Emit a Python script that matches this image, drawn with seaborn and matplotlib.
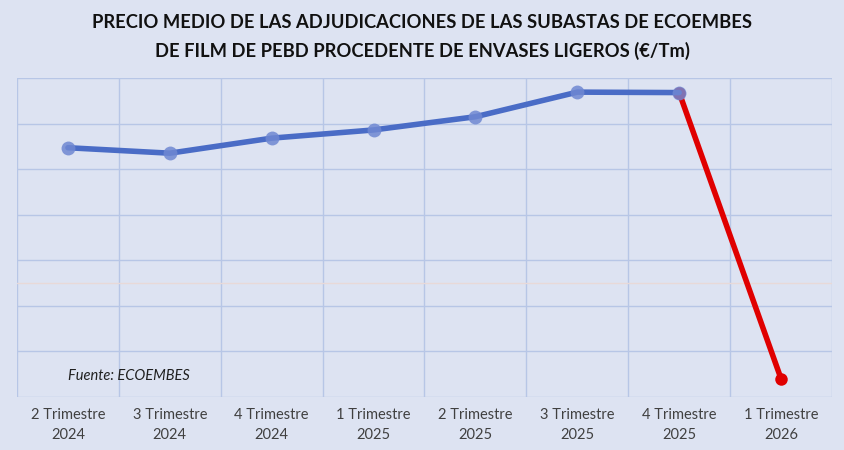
import numpy as np
import pandas as pd
import seaborn as sns
import matplotlib.pyplot as plt

# Datos (EUR/Tm, escala estimada 0-700)
periodos = ["2 Trimestre\n2024", "3 Trimestre\n2024", "4 Trimestre\n2024",
            "1 Trimestre\n2025", "2 Trimestre\n2025", "3 Trimestre\n2025",
            "4 Trimestre\n2025", "1 Trimestre\n2026"]
precio_historico = [547, 535, 568, 586, 615, 669, 668]
precio_nuevo = [668, 40]
linea_ref = 250

titulo = ("PRECIO MEDIO DE LAS ADJUDICACIONES DE LAS SUBASTAS DE ECOEMBES\n"
          "DE FILM DE PEBD PROCEDENTE DE ENVASES LIGEROS (€/Tm)")
fuente = "Fuente: ECOEMBES"

fondo = "#dde3f2"
rejilla = "#b7c6e6"
azul = "#4a6cc6"
rojo = "#e00000"


def main():
    sns.set_theme(style="white")
    plt.rcParams['font.family'] = ['Lato', 'DejaVu Sans']

    df_hist = pd.DataFrame({"x": np.arange(len(precio_historico)), "precio": precio_historico})
    df_nuevo = pd.DataFrame({"x": [len(periodos) - 2, len(periodos) - 1], "precio": precio_nuevo})

    fig = plt.figure(figsize=(8.45, 4.5), dpi=100, facecolor=fondo)
    ax = fig.add_axes([17 / 845, 53 / 450, 815 / 845, 319 / 450])
    ax.set_facecolor(fondo)

    # linea de referencia tenue
    ax.axhline(linea_ref, color="#e8d9d8", lw=1, zorder=1)

    sns.lineplot(data=df_nuevo, x="x", y="precio", ax=ax, color=rojo, lw=4,
                 marker="o", markersize=9, markeredgewidth=0, zorder=3)
    sns.lineplot(data=df_hist, x="x", y="precio", ax=ax, color=azul, lw=4,
                 zorder=4)
    ax.plot(df_hist["x"], df_hist["precio"], "o", color="#6f88d2", alpha=0.85,
            markersize=10, markeredgewidth=0, zorder=5)

    ax.set_xlim(-0.5, len(periodos) - 0.5)
    ax.set_ylim(0, 700)
    ax.set_xticks(np.arange(len(periodos)))
    ax.set_xticklabels(periodos, fontsize=10.5, color="#404040", linespacing=1.5)
    ax.set_xticks(np.arange(-0.5, len(periodos)), minor=True)
    ax.set_yticks(np.arange(0, 701, 100))
    ax.set_yticklabels([])
    ax.tick_params(axis="x", which="both", length=0, pad=8)
    ax.tick_params(axis="y", length=0)
    ax.grid(True, which="minor", axis="x", color=rejilla, lw=1)
    ax.grid(True, which="major", axis="y", color=rejilla, lw=1)
    ax.set_xlabel("")
    ax.set_ylabel("")
    for s in ax.spines.values():
        s.set_visible(False)

    ax.text(0.6, 46, fuente, fontsize=10.5, style="italic", color="#202020", ha="center", va="center")

    fig.text(0.5, 0.918, titulo, ha="center", va="center", fontsize=13.2,
             fontweight="bold", color="#111111", linespacing=1.7)

    fig.savefig("out.png", dpi=100, facecolor=fondo)


if __name__ == "__main__":
    main()
